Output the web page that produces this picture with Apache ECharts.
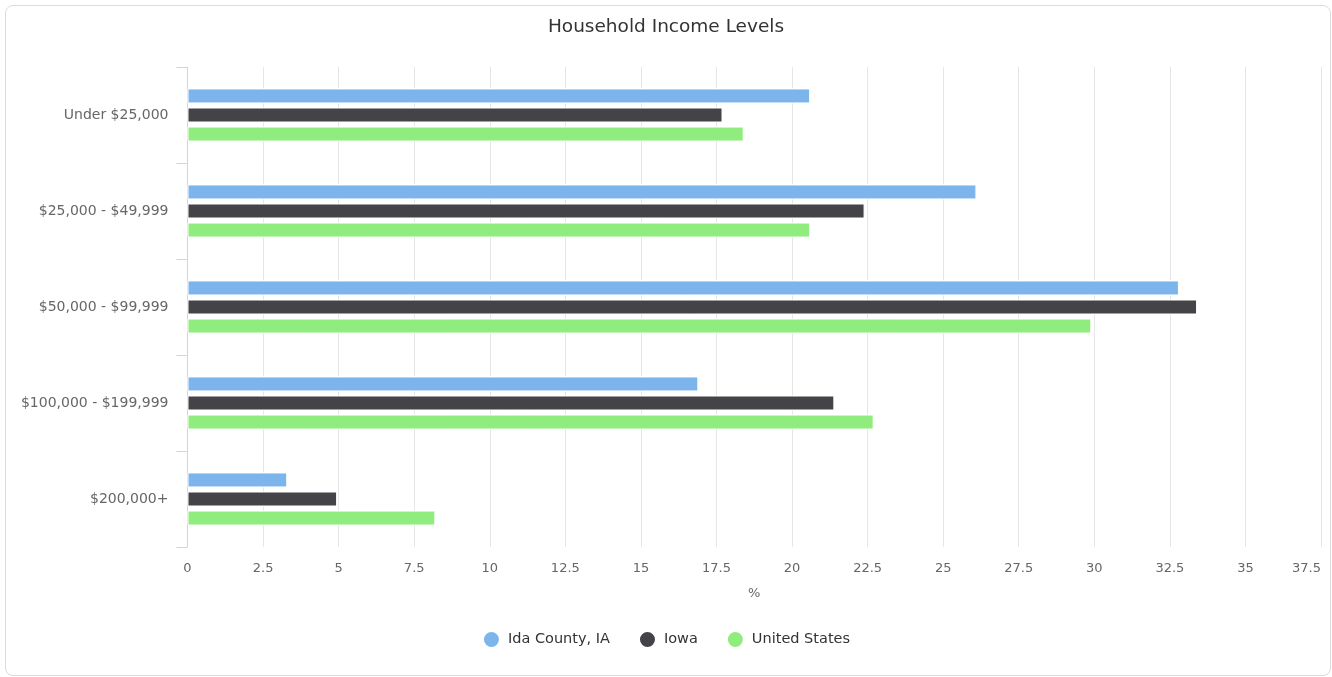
<!DOCTYPE html>
<html>
<head>
<meta charset="utf-8">
<script src="https://cdn.jsdelivr.net/npm/echarts@6/dist/echarts.min.js"></script>
<style>
  html, body { margin: 0; padding: 0; background: #fff; }
  #frame { position: absolute; left: 5px; top: 5px; width: 1324px; height: 669px;
           border: 1px solid #dcdcdc; border-radius: 8px; }
  #chart { position: absolute; left: 0; top: 0; width: 1332px; height: 677px; }
</style>
</head>
<body>
<div id="frame"></div>
<div id="chart"></div>
<script>
  // income brackets, top to bottom
  var categories = ['Under $25,000', '$25,000 - $49,999', '$50,000 - $99,999', '$100,000 - $199,999', '$200,000+'];
  var idaCounty = [20.6, 26.1, 32.8, 16.9, 3.3];
  var iowa = [17.7, 22.4, 33.4, 21.4, 4.95];
  var unitedStates = [18.4, 20.6, 29.9, 22.7, 8.2];
  var seriesNames = ['Ida County, IA', 'Iowa', 'United States'];
  var colors = ['#7cb5ec', '#434348', '#90ed7d'];

  var font = '"DejaVu Sans", Verdana, sans-serif';
  var myChart = echarts.init(document.getElementById('chart'));

  var myseries = [idaCounty, iowa, unitedStates].map(function (vals, i) {
    return {
      name: seriesNames[i],
      type: 'bar',
      data: vals,
      barWidth: 15,
      barGap: '27%',
      itemStyle: { color: colors[i], borderColor: '#fff', borderWidth: 1 },
      emphasis: { disabled: true }
    };
  });

  var option = {
    animation: false,
    color: colors,
    textStyle: { fontFamily: font },
    title: {
      text: 'Household Income Levels',
      left: 'center',
      top: 13,
      textStyle: { fontFamily: font, fontSize: 18.5, fontWeight: 'normal', color: '#333' }
    },
    legend: {
      bottom: 23,
      left: 'center',
      icon: 'circle',
      itemWidth: 17,
      itemHeight: 17,
      itemGap: 28,
      textStyle: { fontFamily: font, fontSize: 14.5, color: '#333', padding: [0, 0, 0, 3] },
      data: seriesNames
    },
    grid: { left: 187.5, right: 11, top: 67, bottom: 130, containLabel: false },
    xAxis: {
      type: 'value',
      min: 0,
      max: 37.5,
      interval: 2.5,
      name: '%',
      nameLocation: 'middle',
      nameGap: 40,
      nameTextStyle: { fontFamily: font, fontSize: 13, color: '#666' },
      axisLine: { show: false },
      axisTick: { show: false },
      axisLabel: { color: '#666', fontSize: 13, fontFamily: font, margin: 15, alignMaxLabel: 'right' },
      splitLine: { show: true, lineStyle: { color: '#e6e6e6', width: 1 } }
    },
    yAxis: {
      type: 'category',
      inverse: true,
      data: categories,
      axisLine: { show: true, lineStyle: { color: '#ccd6eb' } },
      axisTick: { show: true, length: 11, lineStyle: { color: '#ccd6eb' } },
      axisLabel: { color: '#666', fontSize: 14, fontFamily: font, margin: 19 },
      splitLine: { show: false }
    },
    series: myseries
  };

  myChart.setOption(option, true);
  window.addEventListener('resize', function () { myChart.resize(); });
</script>
</body>
</html>
